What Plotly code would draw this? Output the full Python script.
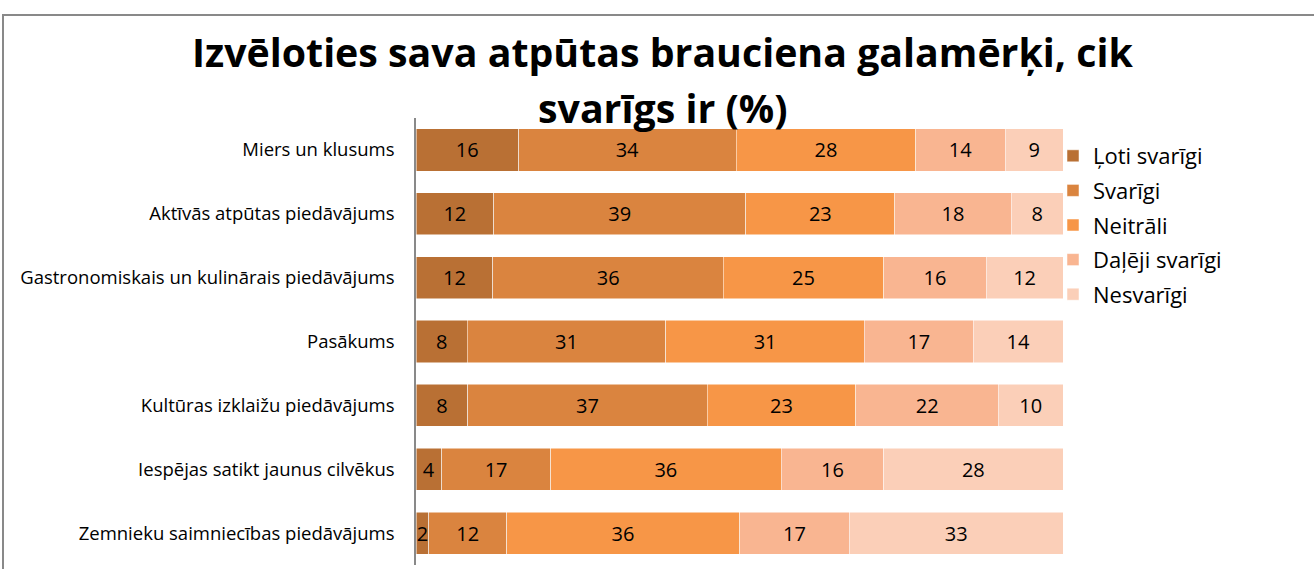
import plotly.graph_objects as go

categories = [
    "Miers un klusums",
    "Aktīvās atpūtas piedāvājums",
    "Gastronomiskais un kulinārais piedāvājums",
    "Pasākums",
    "Kultūras izklaižu piedāvājums",
    "Iespējas satikt jaunus cilvēkus",
    "Zemnieku saimniecības piedāvājums",
]
series_names = ["Ļoti svarīgi", "Svarīgi", "Neitrāli", "Daļēji svarīgi", "Nesvarīgi"]
loti_svarigi = [16, 12, 12, 8, 8, 4, 2]
svarigi = [34, 39, 36, 31, 37, 17, 12]
neitrali = [28, 23, 25, 31, 23, 36, 36]
daleji_svarigi = [14, 18, 16, 17, 22, 16, 17]
nesvarigi = [9, 8, 12, 14, 10, 28, 33]
title_lines = ["Izvēloties sava atpūtas brauciena galamērķi, cik", "svarīgs ir (%)"]

series_values = [loti_svarigi, svarigi, neitrali, daleji_svarigi, nesvarigi]
colors = ["#B97034", "#DA843F", "#F79647", "#F9B591", "#FBCFB8"]

FONT = "Open Sans"
W, H = 1314, 569
L, R, T, B = 416, W - 1063, 118, H - 565
pw, ph = W - L - R, H - T - B

def px2x(px):
    return (px - L) / pw

def py2y(py):
    return (H - B - py) / ph

fig = go.Figure()
for name, vals, col in zip(series_names, series_values, colors):
    fig.add_trace(go.Bar(
        y=categories, x=vals, name=name, orientation="h", legendgroup=name,
        marker=dict(color=col, line=dict(color="#FFFFFF", width=0.5)),
        text=[str(v) for v in vals], textposition="inside",
        insidetextanchor="middle", textangle=0,
        textfont=dict(family=FONT, size=20, color="#000000"),
    ))

annotations = []
for i, line in enumerate(title_lines):
    annotations.append(dict(
        text="<b>" + line + "</b>",
        x=px2x(662), y=py2y(52 + 56 * i), xref="paper", yref="paper",
        xanchor="center", yanchor="middle", showarrow=False,
        font=dict(family=FONT, size=39.3, color="#000000"),
    ))

fig.update_layout(
    width=W, height=H,
    barmode="stack", barnorm="percent", bargap=0.34,
    margin=dict(l=L, r=R, t=T, b=B, pad=0),
    paper_bgcolor="#FFFFFF", plot_bgcolor="#FFFFFF",
    font=dict(family=FONT, color="#000000"),
    uniformtext=dict(minsize=20, mode="show"),
    showlegend=True,
    legend=dict(
        x=px2x(1053), y=py2y(135), xanchor="left", yanchor="top",
        font=dict(family=FONT, size=22, color="#000000"),
        traceorder="grouped", tracegroupgap=3, itemwidth=30,
        bgcolor="rgba(0,0,0,0)",
    ),
    xaxis=dict(visible=False, range=[0, 100]),
    yaxis=dict(
        autorange="reversed", showgrid=False, ticks="", showline=True,
        linecolor="#898989", linewidth=1.5, ticklabelstandoff=16,
        tickfont=dict(family=FONT, size=18.5, color="#000000"),
    ),
    annotations=annotations,
    shapes=[dict(
        type="rect", xref="paper", yref="paper", layer="below",
        x0=px2x(3), x1=px2x(1330), y0=py2y(585), y1=py2y(15),
        line=dict(color="#898989", width=2), fillcolor="rgba(0,0,0,0)",
    )],
)

fig.write_html("out.html", config={"displayModeBar": False},
               post_script="document.body.style.margin='0';")
